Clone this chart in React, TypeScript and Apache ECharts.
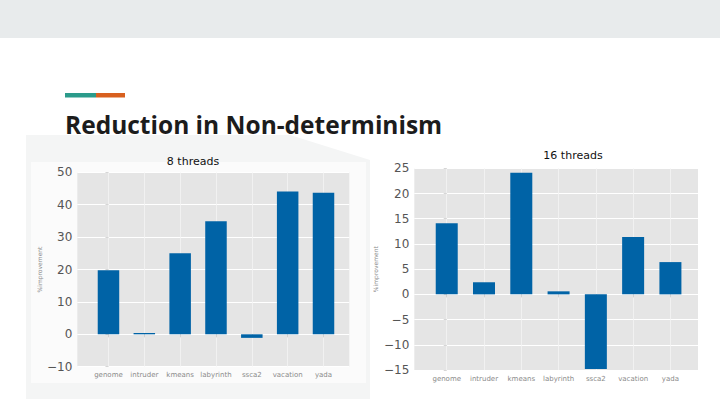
import React, { useEffect, useRef } from "react";
import * as echarts from "echarts";

const categories = ["genome", "intruder", "kmeans", "labyrinth", "ssca2", "vacation", "yada"];
const values8 = [19.8, 0.4, 25.0, 34.9, -1.1, 44.1, 43.7];
const values16 = [14.1, 2.4, 24.1, 0.6, -14.8, 11.4, 6.4];
const yTicks8 = { min: -10, max: 50, interval: 10 };
const yTicks16 = { min: -15, max: 25, interval: 5 };
const chartTitles = ["8 threads", "16 threads"];
const slideTitle = "Reduction in Non-determinism";
const yName = "%improvement";

const BAR = "#0063a6";
const minusFmt = (v: number) => (v < 0 ? "\u2212" + Math.abs(v) : String(v));
const catIdx = categories.map((_, i) => i);

function makeX(gridIndex: number) {
  return {
    type: "value",
    gridIndex,
    min: -0.87,
    max: gridIndex === 0 ? 6.72 : 6.74,
    axisLine: { show: false },
    axisTick: { show: true, length: 3, inside: false, customValues: catIdx, lineStyle: { color: "#bbbbbb", width: 0.6 } },
    axisLabel: {
      customValues: catIdx,
      formatter: (v: number) => categories[Math.round(v)] ?? "",
      fontSize: 7,
      color: "#8a8a8a",
      fontFamily: "DejaVu Sans",
      margin: 5,
    },
    splitLine: { show: true, lineStyle: { color: "#f4f4f4", width: 0.8 } },
  };
}

function makeY(gridIndex: number, t: { min: number; max: number; interval: number }, gap: number) {
  return {
    type: "value",
    gridIndex,
    min: t.min,
    max: t.max,
    interval: t.interval,
    name: yName,
    nameLocation: "middle",
    nameRotate: 90,
    nameGap: gap,
    nameTextStyle: { fontSize: 6, color: "#8a8a8a", fontFamily: "DejaVu Sans" },
    axisLine: { show: false },
    axisTick: { show: true, length: 3, lineStyle: { color: "#bbbbbb", width: 0.6 } },
    axisLabel: { formatter: minusFmt, fontSize: 12, color: "#555555", fontFamily: "DejaVu Sans", margin: 5 },
    splitLine: { show: true, lineStyle: { color: "#ffffff", width: 1 } },
  };
}

export default function App() {
  const ref = useRef<HTMLDivElement>(null);
  useEffect(() => {
    if (!ref.current) return;
    const chart = echarts.init(ref.current, undefined, { renderer: "svg" });
    chart.setOption({
      animation: false,
      backgroundColor: "#ffffff",
      graphic: [
        { type: "rect", z: -10, shape: { x: 0, y: 0, width: 720, height: 38 }, style: { fill: "#e8ebec" } },
        { type: "rect", z: -10, shape: { x: 65, y: 93, width: 31, height: 4.5 }, style: { fill: "#2b9b8b" } },
        { type: "rect", z: -10, shape: { x: 96, y: 93, width: 29, height: 4.5 }, style: { fill: "#d8601f" } },
        {
          type: "text", z: 10, x: 65, y: 137,
          style: { text: slideTitle, fontSize: 24.5, fontWeight: "bold", fontFamily: "Open Sans", fill: "#1c1c1c", textVerticalAlign: "bottom" },
        },
        { type: "polygon", z: -12, shape: { points: [[26, 135], [290, 135], [370, 160], [370, 399], [26, 399]] }, style: { fill: "#f4f5f5" } },
        { type: "rect", z: -11, shape: { x: 31, y: 162, width: 335, height: 221 }, style: { fill: "#fbfbfb" } },
      ],
      title: [
        { text: chartTitles[0], left: 188, top: 151, textAlign: "center", textStyle: { fontSize: 11, fontWeight: "normal", color: "#111", fontFamily: "DejaVu Sans" } },
        { text: chartTitles[1], left: 568, top: 145, textAlign: "center", textStyle: { fontSize: 11, fontWeight: "normal", color: "#111", fontFamily: "DejaVu Sans" } },
      ],
      grid: [
        { left: 77.3, top: 172.3, width: 272, height: 194.4, show: true, backgroundColor: "#e5e5e5", borderWidth: 0, containLabel: false },
        { left: 414.3, top: 168.3, width: 283.7, height: 201.7, show: true, backgroundColor: "#e5e5e5", borderWidth: 0, containLabel: false },
      ],
      xAxis: [makeX(0), makeX(1)],
      yAxis: [makeY(0, yTicks8, 35), makeY(1, yTicks16, 36)],
      series: [
        {
          type: "bar", xAxisIndex: 0, yAxisIndex: 0, barWidth: 21.5,
          itemStyle: { color: BAR },
          data: values8.map((v, i) => [i, v]),
        },
        {
          type: "bar", xAxisIndex: 1, yAxisIndex: 1, barWidth: 22,
          itemStyle: { color: BAR },
          data: values16.map((v, i) => [i, v]),
        },
      ],
    });
    return () => chart.dispose();
  }, []);
  return <div ref={ref} style={{ position: "fixed", left: 0, top: 0, width: 720, height: 405 }} />;
}
